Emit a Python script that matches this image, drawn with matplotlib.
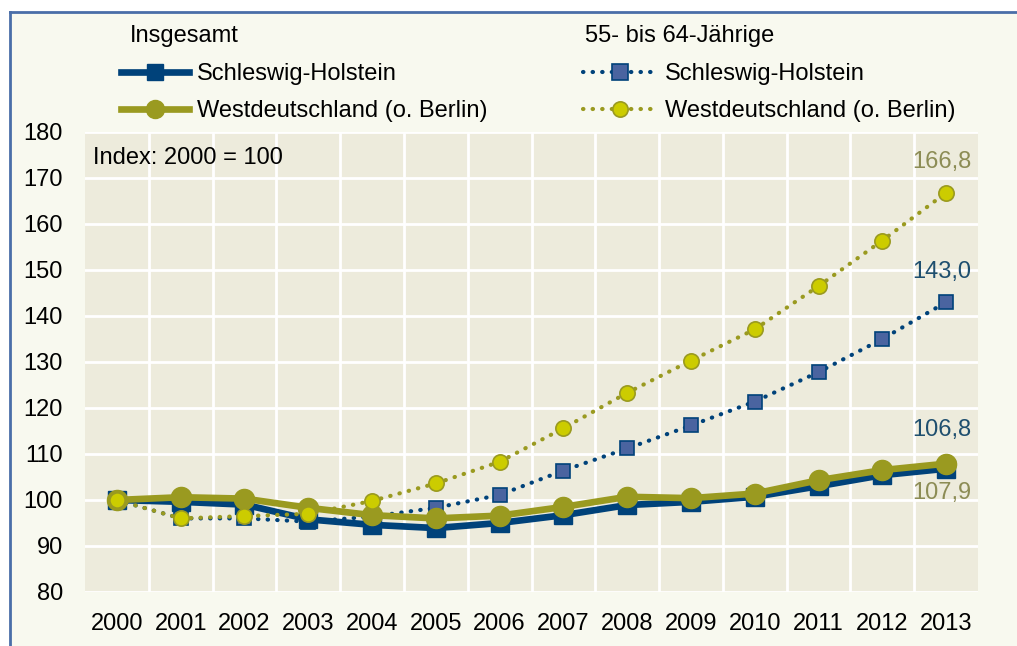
import matplotlib.pyplot as plt
from matplotlib.lines import Line2D

plt.rcParams['font.family'] = ['Liberation Sans', 'DejaVu Sans']

# Daten (Index: 2000 = 100)
jahre = list(range(2000, 2014))
sh_gesamt = [100, 99.6, 99.0, 95.8, 94.6, 93.9, 95.0, 96.7, 98.9, 99.6, 100.7, 103.0, 105.4, 106.8]
wd_gesamt = [100, 100.6, 100.3, 98.3, 96.7, 96.0, 96.6, 98.5, 100.7, 100.4, 101.4, 104.3, 106.5, 107.9]
sh_55_64 = [100, 96.0, 96.0, 95.3, 96.4, 98.3, 101.1, 106.4, 111.2, 116.2, 121.4, 127.8, 135.0, 143.0]
wd_55_64 = [100, 96.0, 96.5, 97.0, 99.8, 103.6, 108.3, 115.6, 123.3, 130.3, 137.1, 146.5, 156.4, 166.8]

blau = '#00427a'
blau_hell = '#4a64a0'
oliv = '#9a9a20'
gelb = '#cccc00'
fs = 17

fig = plt.figure(figsize=(10.17, 6.46), dpi=100)
fig.patch.set_facecolor('white')

# Hintergrund mit blauem Rahmen links und oben
bg = fig.add_axes([10/1017, 0, 1 - 10/1017, 1 - 12/646])
bg.set_facecolor('#f8f9ef')
bg.set_xticks([]); bg.set_yticks([])
for s in ['right', 'bottom']:
    bg.spines[s].set_visible(False)
for s in ['left', 'top']:
    bg.spines[s].set_color('#4a6ea8')
    bg.spines[s].set_linewidth(2)

ax = fig.add_axes([85/1017, (646-592)/646, (978-85)/1017, (592-132)/646])
ax.set_facecolor('#edebdc')
ax.set_xlim(1999.5, 2013.5)
ax.set_ylim(80, 180)
ax.set_yticks(range(80, 181, 10))
ax.set_xticks(jahre)
ax.set_xticks([j + 0.5 for j in jahre[:-1]], minor=True)
ax.grid(False)
ax.yaxis.grid(True, color='white', lw=2)
ax.xaxis.grid(True, which='minor', color='white', lw=2)
ax.set_axisbelow(True)
for s in ax.spines.values():
    s.set_visible(False)
ax.tick_params(axis='both', which='both', length=0, labelsize=fs, colors='black')
ax.tick_params(axis='x', pad=15)
ax.tick_params(axis='y', pad=16)

punkte = (0, (0.1, 2.2))

ax.plot(jahre, sh_55_64, color=blau, lw=3.0, ls=punkte, dash_capstyle='round',
        marker='s', ms=10.5, mfc=blau_hell, mec=blau, mew=1.2, zorder=2.5)
ax.plot(jahre, sh_gesamt, color=blau, lw=4.8, marker='s', ms=12.5,
        mfc=blau, mec=blau, zorder=3)
ax.plot(jahre, wd_gesamt, color=oliv, lw=4.8, marker='o', ms=14.5,
        mfc=oliv, mec=oliv, zorder=4)
ax.plot(jahre, wd_55_64, color=oliv, lw=3.0, ls=punkte, dash_capstyle='round',
        marker='o', ms=11, mfc=gelb, mec=oliv, mew=1.2, zorder=6)

ax.text(1999.62, 174.3, 'Index: 2000 = 100', fontsize=fs, va='center', ha='left')

ax.text(2012.93, 173.5, '166,8', color='#8c8c55', fontsize=fs, ha='center', va='center')
ax.text(2012.93, 149.6, '143,0', color='#1f4f6f', fontsize=fs, ha='center', va='center')
ax.text(2012.93, 115.2, '106,8', color='#1f4f6f', fontsize=fs, ha='center', va='center')
ax.text(2012.93, 101.5, '107,9', color='#8c8c55', fontsize=fs, ha='center', va='center')

# Legende
h1 = Line2D([], [], color=blau, lw=4.8, marker='s', ms=12, mfc=blau, mec=blau)
h2 = Line2D([], [], color=oliv, lw=4.8, marker='o', ms=13, mfc=oliv, mec=oliv)
h3 = Line2D([], [], color=blau, lw=3.0, ls=punkte, dash_capstyle='round',
            marker='s', ms=11, mfc=blau_hell, mec=blau, mew=1.2)
h4 = Line2D([], [], color=oliv, lw=3.0, ls=punkte, dash_capstyle='round',
            marker='o', ms=11, mfc=gelb, mec=oliv, mew=1.2)

fig.text(130/1017, 1 - 36/646, 'Insgesamt', fontsize=fs, va='center', ha='left')
fig.text(585/1017, 1 - 36/646, '55- bis 64-Jährige', fontsize=fs, va='center', ha='left')

fig.legend([h1, h2], ['Schleswig-Holstein', 'Westdeutschland (o. Berlin)'],
           loc='upper left', bbox_to_anchor=(100/1017, 1 - 42/646),
           frameon=False, fontsize=fs, handlelength=2.85,
           handletextpad=0.35, labelspacing=0.64)
fig.legend([h3, h4], ['Schleswig-Holstein', 'Westdeutschland (o. Berlin)'],
           loc='upper left', bbox_to_anchor=(562/1017, 1 - 42/646),
           frameon=False, fontsize=fs, handlelength=3.1,
           handletextpad=0.35, labelspacing=0.64)

fig.savefig('out.png', dpi=100, facecolor=fig.get_facecolor())
